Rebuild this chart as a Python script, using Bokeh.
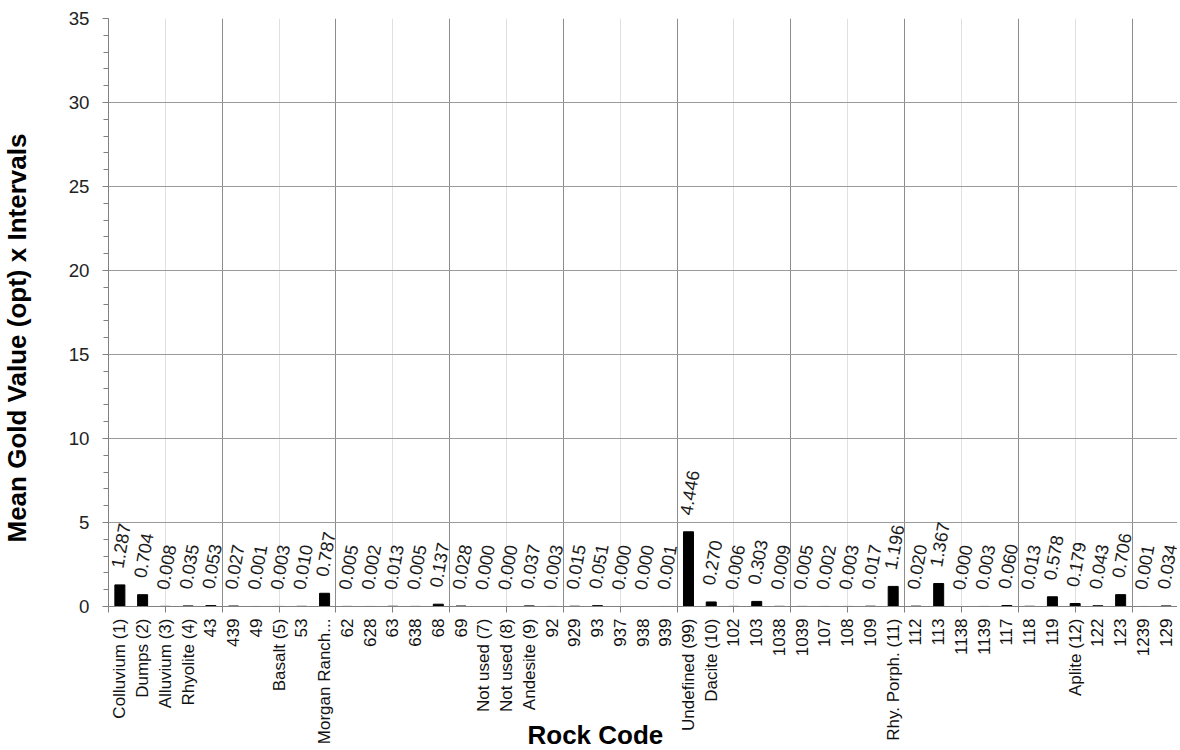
import math
from bokeh.plotting import figure
from bokeh.models import Range1d, FixedTicker, SingleIntervalTicker, ColumnDataSource, LabelSet, Title
from bokeh.core.properties import value
from bokeh.embed import file_html
from bokeh.resources import INLINE

categories = [
    "Colluvium (1)", "Dumps (2)", "Alluvium (3)", "Rhyolite (4)", "43", "439", "49",
    "Basalt (5)", "53", "Morgan Ranch...", "62", "628", "63", "638", "68", "69",
    "Not used (7)", "Not used (8)", "Andesite (9)", "92", "929", "93", "937", "938",
    "939", "Undefined (99)", "Dacite (10)", "102", "103", "1038", "1039", "107", "108",
    "109", "Rhy. Porph. (11)", "112", "113", "1138", "1139", "117", "118", "119",
    "Aplite (12)", "122", "123", "1239", "129",
]
values = [
    1.287, 0.704, 0.008, 0.035, 0.053, 0.027, 0.001,
    0.003, 0.010, 0.787, 0.005, 0.002, 0.013, 0.005, 0.137, 0.028,
    0.000, 0.000, 0.037, 0.003, 0.015, 0.051, 0.000, 0.000,
    0.001, 4.446, 0.270, 0.006, 0.303, 0.009, 0.005, 0.002, 0.003,
    0.017, 1.196, 0.020, 1.367, 0.000, 0.003, 0.060, 0.013, 0.578,
    0.179, 0.043, 0.706, 0.001, 0.034,
]
y_max = 35
x_title = "Rock Code"
y_title = "Mean Gold Value (opt) x Intervals"

FONT = "Liberation Sans"
n = len(categories)
centers = [i + 0.5 for i in range(n)]
labels = ["%.3f" % v for v in values]

src = ColumnDataSource(dict(x=centers, top=values, lab=labels))

p = figure(width=1177, height=750, x_range=Range1d(0, n), y_range=Range1d(0, y_max),
           output_backend="svg", toolbar_location=None,
           min_border_left=108, min_border_top=18, min_border_right=0, min_border_bottom=144)
p.background_fill_color = "white"
p.border_fill_color = "white"
p.outline_line_color = None

# x axis: labels at category centres, small ticks every 2.5 categories
xa = p.xaxis[0]
xa.ticker = FixedTicker(ticks=centers, minor_ticks=[k * 2.5 for k in range(0, 19)])
xa.major_label_overrides = {c: name for c, name in zip(centers, categories)}
xa.major_label_orientation = math.pi / 2
xa.major_tick_line_color = None
xa.major_tick_out = 0
xa.major_tick_in = 0
xa.minor_tick_out = 6
xa.minor_tick_in = 0
xa.minor_tick_line_color = "#808080"
xa.axis_line_color = "#808080"
xa.major_label_text_font = FONT
xa.major_label_text_font_size = "17px"
xa.major_label_text_color = "#111111"
xa.major_label_standoff = 6

ya = p.yaxis[0]
ya.ticker = SingleIntervalTicker(interval=5, num_minor_ticks=5)
ya.major_tick_out = 6
ya.major_tick_in = 0
ya.minor_tick_out = 5
ya.minor_tick_in = 0
ya.major_tick_line_color = "#808080"
ya.minor_tick_line_color = "#808080"
ya.axis_line_color = "#808080"
ya.major_label_text_font = FONT
ya.major_label_text_font_size = "18.7px"
ya.major_label_text_color = "#222222"
ya.major_label_standoff = 13

xg = p.xgrid[0]
xg.ticker = FixedTicker(ticks=[k * 5 for k in range(0, 10)],
                        minor_ticks=[k * 5 + 2.5 for k in range(0, 9)])
xg.grid_line_color = "#8c8c8c"
xg.minor_grid_line_color = "#e0e0e0"

yg = p.ygrid[0]
yg.ticker = SingleIntervalTicker(interval=5)
yg.grid_line_color = "#9a9a9a"

p.vbar(x="x", top="top", width=0.44, source=src, fill_color="black", line_color="black")

p.add_layout(LabelSet(x="x", y="top", text="lab", source=src, angle=math.radians(80),
                      x_offset=-3, y_offset=17, text_align="left", text_baseline="middle",
                      text_font=value(FONT), text_font_size=value("18px"),
                      text_color="#1a1a1a"))

p.add_layout(Title(text=x_title, align="left", offset=419, standoff=-56,
                   vertical_align="top",
                   text_font=FONT, text_font_size="26px", text_font_style="bold",
                   text_color="black"), "below")
# spacer between the y axis and its title
p.add_layout(Title(text=" ", standoff=29, text_font_size="1px"), "left")
p.add_layout(Title(text=y_title, align="left", offset=64, standoff=0,
                   vertical_align="top",
                   text_font=FONT, text_font_size="26px", text_font_style="bold",
                   text_color="black"), "left")

open("out.html", "w").write(file_html(p, INLINE))
